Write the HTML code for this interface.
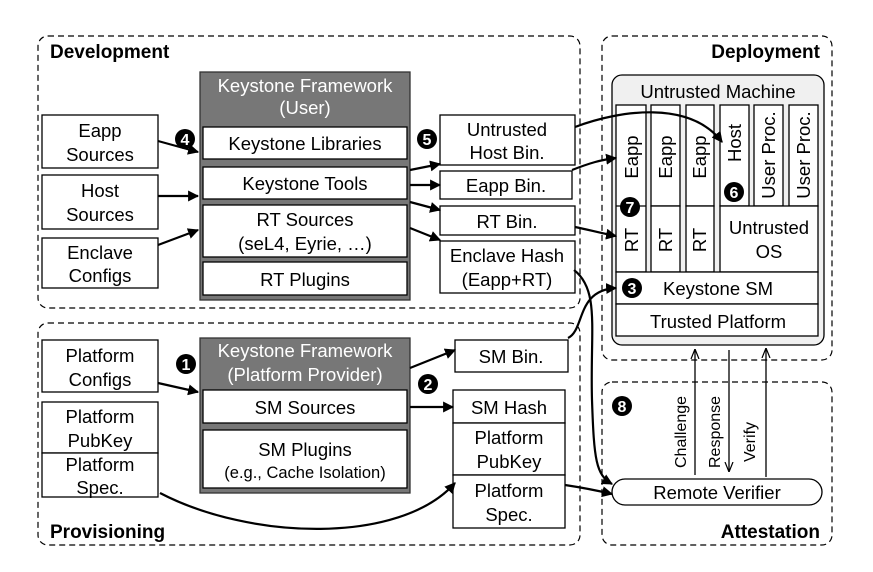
<!DOCTYPE html>
<html><head><meta charset="utf-8"><style>
body{margin:0;background:#fff}
text{font-family:"Liberation Sans",sans-serif;font-size:18.5px;fill:#000}
.h{font-weight:bold;font-size:19px}
.w{fill:#fff}
.n{font-weight:bold;font-size:16px}
</style></head><body>
<svg width="873" height="567" viewBox="0 0 873 567" xmlns="http://www.w3.org/2000/svg">
<defs>
<marker id="b" viewBox="0 0 10 10" refX="9" refY="5" markerWidth="11" markerHeight="11" orient="auto" markerUnits="userSpaceOnUse"><path d="M0,0L10,5L0,10z"/></marker>
<marker id="o" viewBox="0 0 10 10" refX="10" refY="5" markerWidth="10" markerHeight="10" orient="auto" markerUnits="userSpaceOnUse"><path d="M0,1L10,5L0,9" fill="none" stroke="#000" stroke-width="1.2"/></marker>
</defs>
<g fill="none" stroke="#000" stroke-width="1.2" stroke-dasharray="6,4">
<rect x="38" y="36" width="542" height="272" rx="10"/>
<rect x="602" y="36" width="230" height="324" rx="10"/>
<rect x="38" y="323" width="542" height="222" rx="10"/>
<rect x="602" y="382" width="230" height="163" rx="10"/>
</g>
<text class="h" x="50" y="58">Development</text>
<text class="h" x="820" y="58" text-anchor="end">Deployment</text>
<text class="h" x="50" y="538">Provisioning</text>
<text class="h" x="820" y="538" text-anchor="end">Attestation</text>
<g fill="#fff" stroke="#000" stroke-width="1.3">
<rect x="42" y="115" width="116" height="53"/>
<rect x="42" y="175" width="116" height="54"/>
<rect x="42" y="238" width="116" height="50"/>
<rect x="440" y="115" width="135" height="50"/>
<rect x="440" y="171" width="132" height="28"/>
<rect x="440" y="206" width="135" height="29"/>
<rect x="440" y="241" width="135" height="52"/>
<rect x="42" y="340" width="116" height="52"/>
<rect x="42" y="402" width="116" height="51"/>
<rect x="42" y="453" width="116" height="44"/>
<rect x="455" y="340" width="113" height="32"/>
<rect x="453" y="390" width="112" height="33"/>
<rect x="453" y="423" width="112" height="52"/>
<rect x="453" y="475" width="112" height="53"/>
</g>
<rect x="200" y="72" width="210" height="228" fill="#777" stroke="#333" stroke-width="1.3"/>
<rect x="200" y="338" width="210" height="155" fill="#777" stroke="#333" stroke-width="1.3"/>
<g fill="#fff" stroke="#000" stroke-width="1.3">
<rect x="203" y="127" width="204" height="32"/>
<rect x="203" y="167" width="204" height="32"/>
<rect x="203" y="205" width="204" height="52"/>
<rect x="203" y="262" width="204" height="33"/>
<rect x="203" y="390" width="204" height="33"/>
<rect x="203" y="430" width="204" height="58"/>
</g>
<text class="w" x="305" y="92" text-anchor="middle">Keystone Framework</text>
<text class="w" x="305" y="114" text-anchor="middle">(User)</text>
<text class="w" x="305" y="357" text-anchor="middle">Keystone Framework</text>
<text class="w" x="305" y="381" text-anchor="middle">(Platform Provider)</text>
<g text-anchor="middle">
<text x="100" y="137">Eapp</text><text x="100" y="161">Sources</text>
<text x="100" y="197">Host</text><text x="100" y="221">Sources</text>
<text x="100" y="259">Enclave</text><text x="100" y="282">Configs</text>
<text x="305" y="150">Keystone Libraries</text>
<text x="305" y="190">Keystone Tools</text>
<text x="305" y="226">RT Sources</text><text x="305" y="250">(seL4, Eyrie, …)</text>
<text x="305" y="286">RT Plugins</text>
<text x="507" y="136">Untrusted</text><text x="507" y="159">Host Bin.</text>
<text x="506" y="192">Eapp Bin.</text>
<text x="507" y="228">RT Bin.</text>
<text x="507" y="262">Enclave Hash</text><text x="507" y="286">(Eapp+RT)</text>
<text x="100" y="362">Platform</text><text x="100" y="386">Configs</text>
<text x="100" y="423">Platform</text><text x="100" y="447">PubKey</text>
<text x="100" y="471">Platform</text><text x="100" y="494">Spec.</text>
<text x="305" y="414">SM Sources</text>
<text x="305" y="456">SM Plugins</text><text x="305" y="478" style="font-size:16.5px">(e.g., Cache Isolation)</text>
<text x="511" y="363">SM Bin.</text>
<text x="509" y="414">SM Hash</text>
<text x="509" y="444">Platform</text><text x="509" y="468">PubKey</text>
<text x="509" y="497">Platform</text><text x="509" y="521">Spec.</text>
</g>
<rect x="612" y="75" width="212" height="270" rx="10" fill="#f0f0f0" stroke="#000" stroke-width="1.3"/>
<text x="718" y="98" text-anchor="middle">Untrusted Machine</text>
<g fill="#fff" stroke="#000" stroke-width="1.3">
<rect x="616" y="105" width="30" height="167"/>
<rect x="651" y="105" width="29" height="101"/><rect x="651" y="206" width="29" height="66"/>
<rect x="686" y="105" width="28" height="101"/><rect x="686" y="206" width="28" height="66"/>
<rect x="720" y="105" width="29" height="101"/>
<rect x="754" y="105" width="29" height="101"/>
<rect x="789" y="105" width="29" height="101"/>
<rect x="720" y="206" width="98" height="66"/>
<rect x="616" y="272" width="202" height="32"/>
<rect x="616" y="304" width="202" height="32"/>
</g>
<line x1="616" y1="206" x2="646" y2="206" stroke="#000" stroke-width="1.3"/>
<g>
<text transform="translate(638,157) rotate(-90)" text-anchor="middle">Eapp</text>
<text transform="translate(672,157) rotate(-90)" text-anchor="middle">Eapp</text>
<text transform="translate(706,157) rotate(-90)" text-anchor="middle">Eapp</text>
<text transform="translate(741,143) rotate(-90)" text-anchor="middle">Host</text>
<text transform="translate(775,155) rotate(-90)" text-anchor="middle">User Proc.</text>
<text transform="translate(810,155) rotate(-90)" text-anchor="middle">User Proc.</text>
<text transform="translate(638,240) rotate(-90)" text-anchor="middle">RT</text>
<text transform="translate(672,240) rotate(-90)" text-anchor="middle">RT</text>
<text transform="translate(706,240) rotate(-90)" text-anchor="middle">RT</text>
<text x="769" y="234" text-anchor="middle">Untrusted</text>
<text x="769" y="258" text-anchor="middle">OS</text>
<text x="718" y="295" text-anchor="middle">Keystone SM</text>
<text x="718" y="328" text-anchor="middle">Trusted Platform</text>
</g>
<g>
<circle cx="185" cy="139" r="10"/><text x="185" y="145" class="n w" text-anchor="middle">4</text>
<circle cx="427" cy="139" r="10"/><text x="427" y="145" class="n w" text-anchor="middle">5</text>
<circle cx="734" cy="192" r="10"/><text x="734" y="198" class="n w" text-anchor="middle">6</text>
<circle cx="630" cy="207" r="10"/><text x="630" y="213" class="n w" text-anchor="middle">7</text>
<circle cx="632" cy="288" r="10"/><text x="632" y="294" class="n w" text-anchor="middle">3</text>
<circle cx="186" cy="364" r="10"/><text x="186" y="370" class="n w" text-anchor="middle">1</text>
<circle cx="428" cy="384" r="10"/><text x="428" y="390" class="n w" text-anchor="middle">2</text>
<circle cx="622" cy="406" r="10"/><text x="622" y="412" class="n w" text-anchor="middle">8</text>
</g>
<rect x="612" y="479" width="210" height="26" rx="13" fill="#fff" stroke="#000" stroke-width="1.3"/>
<text x="717" y="499" text-anchor="middle">Remote Verifier</text>
<g stroke="#000" stroke-width="1.3" fill="none">
<line x1="695" y1="475" x2="695" y2="349" marker-end="url(#o)"/>
<line x1="729" y1="350" x2="729" y2="472" marker-end="url(#o)"/>
<line x1="766" y1="477" x2="766" y2="348" marker-end="url(#o)"/>
</g>
<text transform="translate(686,468) rotate(-90)" style="font-size:16px">Challenge</text>
<text transform="translate(720,468) rotate(-90)" style="font-size:16px">Response</text>
<text transform="translate(755,462) rotate(-90)" style="font-size:16px">Verify</text>
<g stroke="#000" stroke-width="2.2" fill="none">
<path d="M158,141 L198,152" marker-end="url(#b)"/>
<path d="M158,196 L198,196" marker-end="url(#b)"/>
<path d="M158,245 L198,230" marker-end="url(#b)"/>
<path d="M410,170 L440,164" marker-end="url(#b)"/>
<path d="M410,185 L440,185" marker-end="url(#b)"/>
<path d="M410,202 L440,210" marker-end="url(#b)"/>
<path d="M410,228 L440,240" marker-end="url(#b)"/>
<path d="M575,127 C620,110 690,100 722,142" marker-end="url(#b)"/>
<path d="M572,170 C590,163 600,160 616,158" marker-end="url(#b)"/>
<path d="M575,227 C590,230 600,233 616,236" marker-end="url(#b)"/>
<path d="M568,338 C585,330 576,290 616,288" marker-end="url(#b)"/>
<path d="M574,270 C600,290 590,330 592,400 C594,460 596,475 612,484" marker-end="url(#b)"/>
<path d="M158,383 L198,392" marker-end="url(#b)"/>
<path d="M410,368 L455,350" marker-end="url(#b)"/>
<path d="M410,407 L453,407" marker-end="url(#b)"/>
<path d="M160,493 C250,540 400,545 455,483" marker-end="url(#b)"/>
<path d="M565,485 C585,488 595,490 612,494" marker-end="url(#b)"/>
</g>
</svg>
</body></html>
